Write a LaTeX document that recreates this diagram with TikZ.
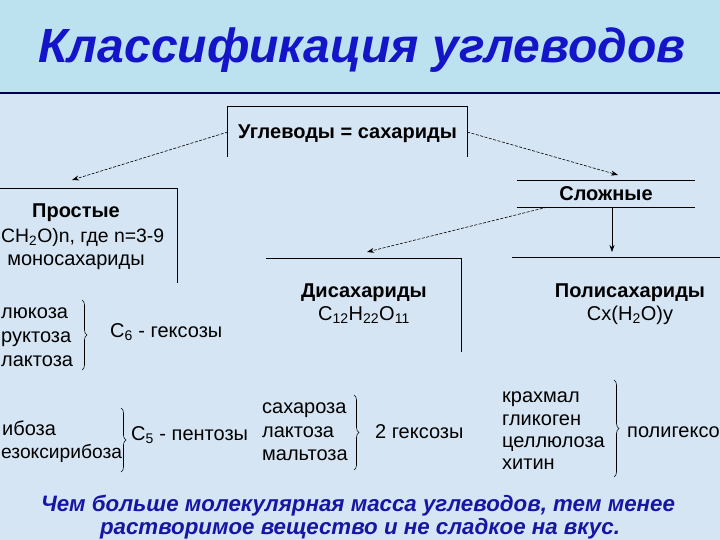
\documentclass[tikz,border=0pt]{standalone}
\usepackage{fontspec}
\setmainfont{Liberation Sans}
\usepackage{xcolor}
\usepackage{tikz}
\usetikzlibrary{arrows.meta,decorations.pathreplacing,calc,positioning}
\definecolor{bandblue}{RGB}{188,226,240}
\definecolor{pageblue}{RGB}{214,229,243}
\definecolor{titleblue}{RGB}{20,20,200}
\definecolor{noteblue}{RGB}{22,22,165}
\begin{document}
\begin{tikzpicture}[x=1pt,y=-1pt,
	every node/.style={font=\fontsize{20}{24}\selectfont,inner sep=0pt},
	head/.style={font=\fontsize{20}{24}\selectfont\bfseries},
	box/.style={text height=14pt,text depth=0pt},
	rule/.style={line width=0.9pt},
	link/.style={-{Stealth[length=7pt,width=5pt]},line width=0.6pt},
	dlink/.style={link,dash pattern=on 3pt off 1.5pt},
	grp/.style={decorate,decoration={brace,amplitude=5pt},line width=0.6pt},
	note/.style={font=\fontsize{22.3}{26}\selectfont\bfseries\itshape,text=noteblue}]
\useasboundingbox (0,0) rectangle (720,540);
\clip (0,0) rectangle (720,540);
\fill[pageblue] (0,0) rectangle (720,540);
\fill[bandblue] (0,0) rectangle (720,93);
\draw[line width=1.2pt,color=black!70!blue] (0,93) -- (720,93);

\node[anchor=base,font=\fontsize{48}{52}\selectfont\bfseries\itshape,text=titleblue] (title) at (362,63) {Классификация углеводов};

\node[head,box,minimum width=239pt,minimum height=50pt] (carb) at (347.5,132) {Углеводы = сахариды};
\draw[rule] (carb.south west) -- (carb.north west) -- (carb.north east) -- (carb.south east);

\node[head,box,minimum width=178pt,minimum height=26pt] (complex) at (606,194) {Сложные};
\draw[rule] (complex.north west) -- (complex.north east);
\draw[rule] (complex.south west) -- (complex.south east);

\draw[rule] (0,188) -- (177,188) -- (177,283);
\node[head,anchor=base] (simple) at (76,218) {Простые};
\node[anchor=base west,font=\fontsize{19.4}{24}\selectfont] (simpleformula) at (1,242) {CH\textsubscript{2}O)n, где n=3-9};
\node[anchor=base] (mono) at (76,265) {моносахариды};

\draw[rule] (266,258) -- (461,258) -- (461,352);
\node[head,anchor=base] (di) at (364,297) {Дисахариды};
\node[anchor=base] (diformula) at (364,320) {C\textsubscript{12}H\textsubscript{22}O\textsubscript{11}};

\draw[rule] (512,257) -- (720,257);
\node[head,anchor=base] (poly) at (630,297) {Полисахариды};
\node[anchor=base] (polyformula) at (630,320) {Cx(H\textsubscript{2}O)y};

\coordinate (simpletip) at (72,180);
\coordinate (complextip) at (618,175);
\coordinate (ditip) at (367,252);
\coordinate (polytip) at (612,252);
\draw[dlink] (carb.west) -- (simpletip);
\draw[dlink] (carb.east) -- (complextip);
\draw[dlink] ([xshift=-59pt]complex.south) -- (ditip);
\draw[link] ([xshift=6pt]complex.south) -- (polytip);

\node[anchor=base west] (glu) at (1,318) {люкоза};
\node[anchor=base west] (fru) at (1,342) {руктоза};
\node[anchor=base west] (gal) at (1,366) {лактоза};
\draw[grp] (82,300) -- (82,370);
\node[anchor=base west] (hex) at (110,337) {C\textsubscript{6} - гексозы};

\node[anchor=base west] (rib) at (2,435) {ибоза};
\node[anchor=base west,font=\fontsize{19.2}{24}\selectfont] (drib) at (1,458) {езоксирибоза};
\draw[grp] (121,408) -- (121,472);
\node[anchor=base west] (pent) at (131,440) {C\textsubscript{5} - пентозы};

\node[anchor=base west] (sah) at (262,413) {сахароза};
\node[anchor=base west] (lak) at (262,437) {лактоза};
\node[anchor=base west] (mal) at (262,460) {мальтоза};
\draw[grp] (354,395) -- (354,470);
\node[anchor=base west] (dihex) at (375,438) {2 гексозы};

\node[anchor=base west] (kra) at (502,402) {крахмал};
\node[anchor=base west] (gli) at (502,425) {гликоген};
\node[anchor=base west] (cel) at (502,447) {целлюлоза};
\node[anchor=base west] (hit) at (502,469) {хитин};
\draw[grp] (614,380) -- (614,477);
\node[anchor=base west] (polyhex) at (627,437) {полигексо};

\node[note,anchor=base] (note1) at (358,511) {Чем больше молекулярная масса углеводов, тем менее};
\node[note,anchor=base] (note2) at (360,534) {растворимое вещество и не сладкое на вкус.};
\end{tikzpicture}
\end{document}
